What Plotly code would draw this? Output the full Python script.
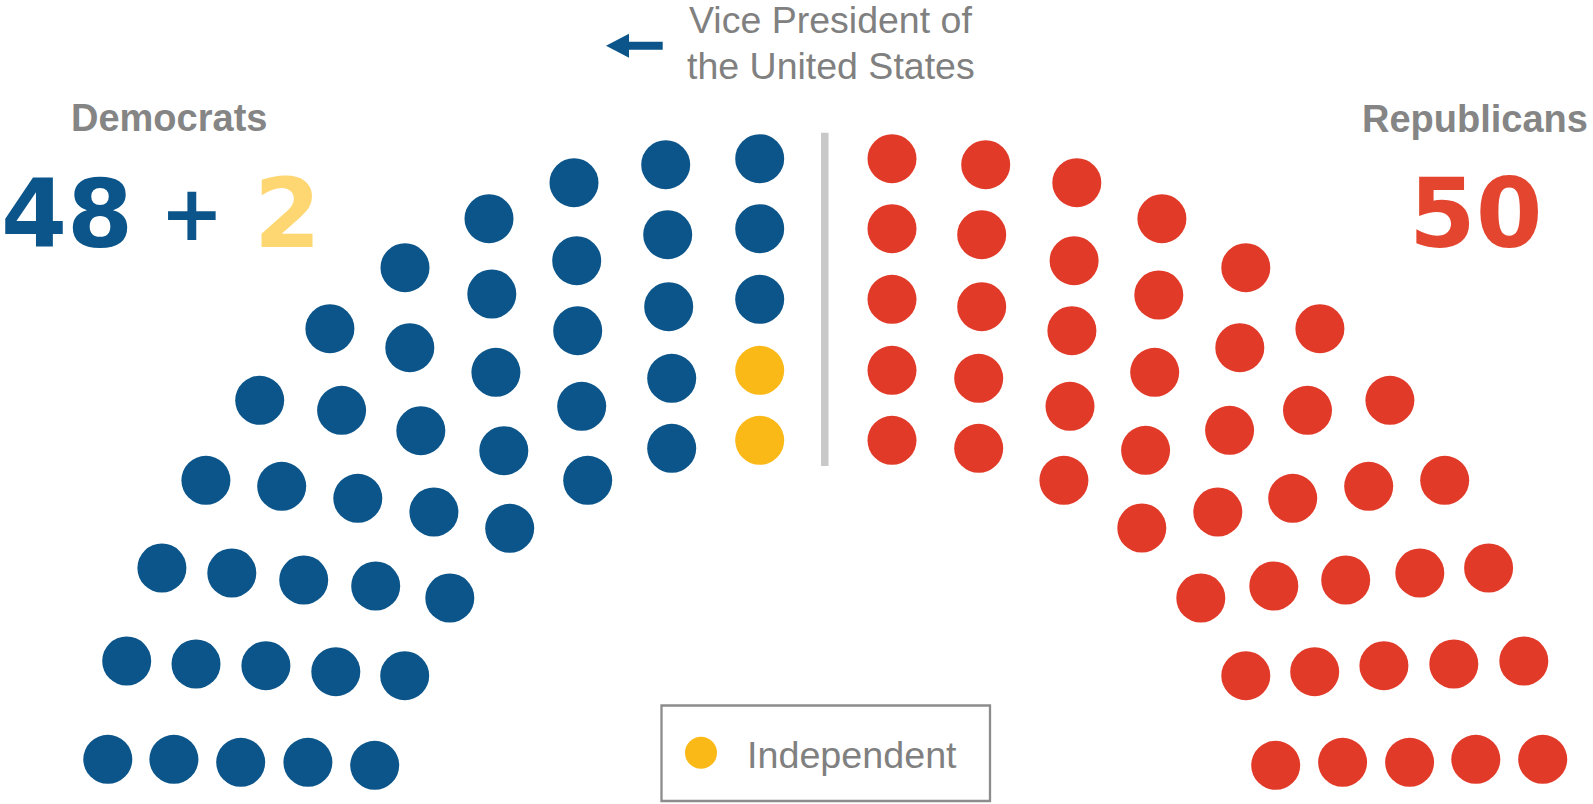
import plotly.graph_objects as go

# ---- data: seat positions (chart units = px, y downwards) ----
dem_x = [107.8, 126.7, 161.9, 205.9, 259.7, 329.9, 405.0, 489.0, 574.0, 665.7, 759.7,
         173.9, 196.0, 231.8, 281.7, 341.6, 409.8, 491.8, 576.7, 667.7, 759.7,
         240.7, 265.9, 303.7, 357.8, 420.8, 495.9, 577.7, 668.7, 759.7,
         307.9, 335.8, 375.7, 433.9, 503.8, 581.7, 671.7,
         374.7, 404.7, 449.8, 509.7, 587.7, 671.7]
dem_y = [759.3, 661.0, 568.0, 480.3, 400.3, 328.7, 267.7, 218.7, 182.7, 164.7, 158.7,
         759.3, 664.0, 573.0, 486.3, 410.3, 347.7, 294.0, 260.7, 234.7, 228.7,
         762.3, 665.7, 580.0, 498.3, 430.7, 372.3, 330.7, 306.7, 299.3,
         762.3, 671.7, 586.0, 512.0, 450.7, 406.3, 378.3,
         765.3, 675.7, 598.0, 528.3, 480.3, 448.3]
ind_x = [759.7, 759.7]
ind_y = [370.3, 440.3]
rep_x = [892.0, 985.7, 1076.8, 1161.9, 1245.8, 1319.9, 1389.9, 1444.7, 1488.6, 1523.8, 1542.7,
         892.0, 981.7, 1074.1, 1158.8, 1239.8, 1307.5, 1368.7, 1419.8, 1453.8, 1475.8,
         892.0, 981.7, 1071.9, 1154.7, 1229.6, 1292.7, 1345.7, 1383.9, 1409.6,
         892.0, 978.7, 1070.0, 1145.6, 1217.8, 1273.8, 1314.7, 1342.6,
         892.0, 978.7, 1063.9, 1141.8, 1200.8, 1245.8, 1275.7]
rep_y = [158.7, 164.7, 182.7, 218.7, 267.7, 328.7, 400.3, 480.3, 568.0, 661.0, 759.3,
         228.7, 234.7, 260.7, 295.0, 347.7, 410.3, 486.3, 573.0, 664.0, 759.3,
         299.3, 306.7, 330.7, 372.3, 430.3, 498.3, 580.0, 665.7, 762.3,
         370.3, 378.3, 406.3, 450.3, 512.0, 586.0, 671.7, 762.3,
         440.3, 448.3, 480.3, 528.0, 598.0, 675.7, 765.3]

dem_count = "48"
ind_count = "2"
rep_count = "50"
party_labels = ["Democrats", "Republicans"]
legend_label = "Independent"
vp_label = ["Vice President of", "the United States"]

BLUE = "#0B558A"
RED = "#E23A29"
YELLOW = "#FBB917"
LIGHT_YELLOW = "#FED672"
GRAY = "#858585"
W, H = 1593, 804
DOT = 49

fig = go.Figure()
for xs, ys, col, name in [(dem_x, dem_y, BLUE, "Democrats"),
                          (ind_x, ind_y, YELLOW, "Independent"),
                          (rep_x, rep_y, RED, "Republicans")]:
    fig.add_trace(go.Scatter(x=xs, y=ys, mode="markers", name=name,
                             marker=dict(size=DOT, color=col, line=dict(width=0)),
                             hoverinfo="skip", showlegend=False))

shapes = [
    # centre aisle
    dict(type="line", xref="x", yref="y", x0=824.8, x1=824.8, y0=132.7, y1=466,
         line=dict(color="#C8C8C8", width=7.5)),
    # VP arrow
    dict(type="path", xref="x", yref="y",
         path="M 606 45.7 L 629 33.7 L 629 41.7 L 662.7 41.7 L 662.7 49.7 L 629 49.7 L 629 57.7 Z",
         fillcolor=BLUE, line=dict(width=0)),
    # legend box
    dict(type="rect", xref="x", yref="y", x0=661.5, x1=990, y0=705.5, y1=801,
         line=dict(color="#8C8C8C", width=2.3), fillcolor="rgba(0,0,0,0)"),
    dict(type="circle", xref="x", yref="y", x0=685, x1=717, y0=736.7, y1=768.7,
         fillcolor=YELLOW, line=dict(width=0)),
]

TXT = "Liberation Sans, Arial, sans-serif"
BIG = "DejaVu Sans, sans-serif"
ann = []
def add(text, x, y, size, color, family=TXT, bold=False):
    t = f"<b>{text}</b>" if bold else text
    ann.append(dict(text=t, x=x, y=y, xref="x", yref="y", xanchor="center",
                    yanchor="middle", showarrow=False, borderpad=0,
                    font=dict(size=size, color=color, family=family)))

add(party_labels[0], 169.3, 117.8, 38, GRAY, bold=True)
add(party_labels[1], 1474.8, 118.5, 38, GRAY, bold=True)
add(dem_count, 66.5, 213.5, 95, BLUE, family=BIG, bold=True)
add("+", 192.3, 213.5, 76, BLUE, family=BIG, bold=True)
add(ind_count, 287.9, 213.5, 96, LIGHT_YELLOW, family=BIG, bold=True)
add(rep_count, 1475.6, 213.5, 96, "#E3452F", family=BIG, bold=True)
add(vp_label[0], 830.9, 19.7, 37.5, "#808080")
add(vp_label[1], 830.5, 65.7, 37.5, "#808080")
add(legend_label, 852, 754.7, 37.7, "#808080")

fig.update_layout(
    width=W, height=H, autosize=False,
    margin=dict(l=0, r=0, t=0, b=0, pad=0),
    paper_bgcolor="white", plot_bgcolor="white",
    xaxis=dict(range=[0, W], visible=False, fixedrange=True),
    yaxis=dict(range=[H, 0], visible=False, fixedrange=True),
    shapes=shapes, annotations=ann,
)

fig.write_html("out.html", config={"displayModeBar": False})
